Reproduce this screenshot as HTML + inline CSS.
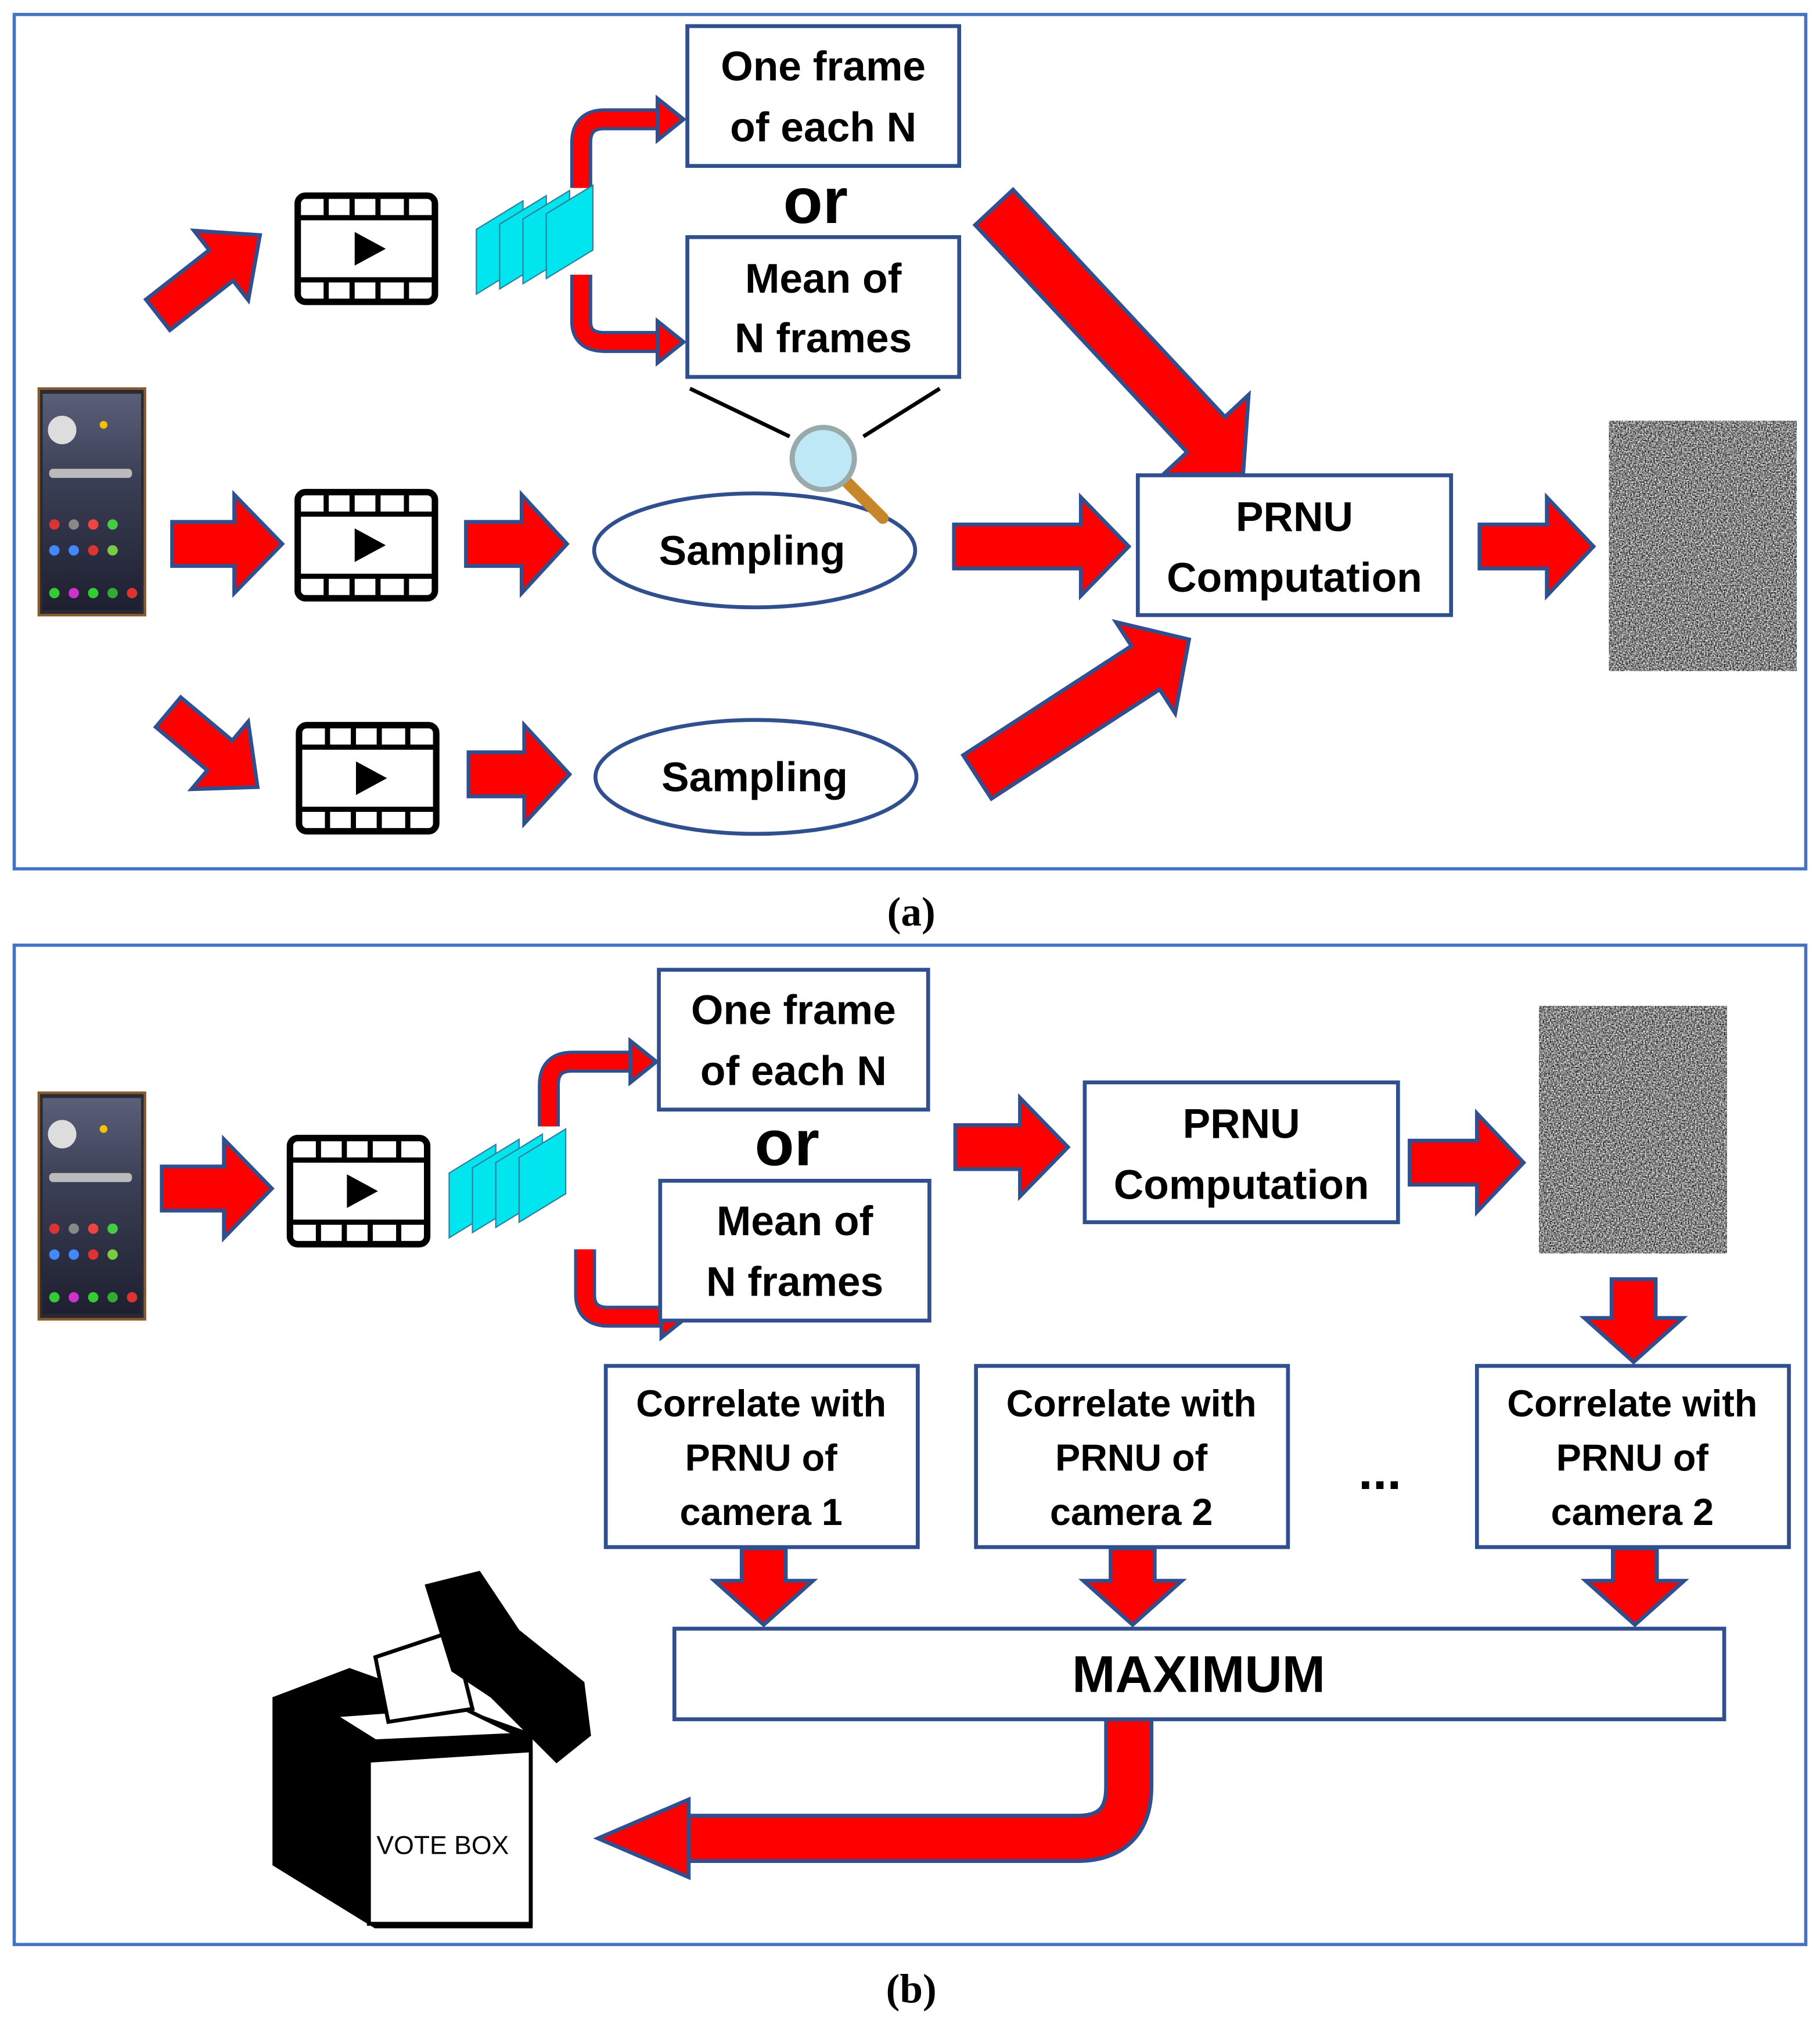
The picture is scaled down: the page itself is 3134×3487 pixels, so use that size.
<!DOCTYPE html>
<html><head><meta charset="utf-8"><style>
html,body{margin:0;padding:0;background:#fff;}
svg{display:block;}
text{font-family:"Liberation Sans",sans-serif;font-weight:bold;fill:#000;}
</style></head><body>
<svg width="3134" height="3487" viewBox="0 0 1406 1564" xmlns="http://www.w3.org/2000/svg">
<defs>
<filter id="noise" x="0" y="0" width="100%" height="100%" color-interpolation-filters="sRGB">
<feTurbulence type="fractalNoise" baseFrequency="0.9" numOctaves="2" seed="3"/>
<feColorMatrix type="matrix" values="1.6 0 0 0 -0.28 1.6 0 0 0 -0.28 1.6 0 0 0 -0.28 0 0 0 0 1"/>
</filter>
<linearGradient id="scr" x1="0" y1="0" x2="0" y2="1">
<stop offset="0" stop-color="#5a5f78"/><stop offset="0.4" stop-color="#3b3f55"/><stop offset="1" stop-color="#1e2030"/>
</linearGradient>
<g id="film">
<rect x="0" y="0" width="106" height="82" rx="6" fill="#fff" stroke="#000" stroke-width="5"/>
<line x1="0" y1="17" x2="106" y2="17" stroke="#000" stroke-width="4"/>
<line x1="0" y1="65" x2="106" y2="65" stroke="#000" stroke-width="4"/>
<g stroke="#000" stroke-width="4">
<line x1="22" y1="0" x2="22" y2="17"/><line x1="42" y1="0" x2="42" y2="17"/><line x1="62" y1="0" x2="62" y2="17"/><line x1="84" y1="0" x2="84" y2="17"/>
<line x1="22" y1="65" x2="22" y2="82"/><line x1="42" y1="65" x2="42" y2="82"/><line x1="62" y1="65" x2="62" y2="82"/><line x1="84" y1="65" x2="84" y2="82"/>
</g>
<polygon points="44,28 44,54 68,41" fill="#000"/>
</g>
<g id="frames">
<polygon points="0,30 36,8 36,58 0,80" fill="#00e5ee" stroke="#2f7f9f" stroke-width="1"/>
<polygon points="18,26 54,4 54,54 18,76" fill="#00e5ee" stroke="#2f7f9f" stroke-width="1"/>
<polygon points="36,22 72,0 72,50 36,72" fill="#00e5ee" stroke="#2f7f9f" stroke-width="1"/>
<polygon points="54,18 90,-4 90,46 54,68" fill="#00e5ee" stroke="#2f7f9f" stroke-width="1"/>
</g>
<g id="phone">
<rect x="0" y="0" width="82" height="175" fill="#2a2a33" stroke="#8a5a30" stroke-width="2"/>
<rect x="3" y="4" width="76" height="167" fill="url(#scr)"/>
<circle cx="18" cy="32" r="11" fill="#ddd"/>
<circle cx="50" cy="28" r="3" fill="#f5c000"/>
<rect x="8" y="62" width="64" height="7" rx="3" fill="#bbb"/>
<g fill="#d33"><circle cx="12" cy="105" r="4"/><circle cx="27" cy="105" r="4" fill="#888"/><circle cx="42" cy="105" r="4" fill="#e44"/><circle cx="57" cy="105" r="4" fill="#4c4"/><circle cx="12" cy="125" r="4" fill="#48f"/><circle cx="27" cy="125" r="4" fill="#48f"/><circle cx="42" cy="125" r="4"/><circle cx="57" cy="125" r="4" fill="#7c4"/><circle cx="12" cy="158" r="4" fill="#3c3"/><circle cx="27" cy="158" r="4" fill="#c3c"/><circle cx="42" cy="158" r="4" fill="#3c3"/><circle cx="57" cy="158" r="4" fill="#3a3"/><circle cx="72" cy="158" r="4"/></g>
</g>
</defs>
<rect width="1406" height="1564" fill="#fff"/>

<rect x="11" y="11" width="1384" height="660" fill="none" stroke="#4472c4" stroke-width="2.5"/>
<text x="704" y="715" font-size="32" text-anchor="middle" style="font-family:'Liberation Serif',serif">(a)</text>
<rect x="11" y="730" width="1384" height="772" fill="none" stroke="#4472c4" stroke-width="2.5"/>
<text x="704" y="1547" font-size="32" text-anchor="middle" style="font-family:'Liberation Serif',serif">(b)</text>

<g fill="#ff0000" stroke="#2f4f8f" stroke-width="3" stroke-linejoin="miter">
<path transform="translate(122,243) rotate(-38)" d="M0,-15 L62,-15 L62,-34 L100,0 L62,34 L62,15 L0,15 Z"/>
<path transform="translate(133,420)" d="M0,-17 L48,-17 L48,-38 L85,0 L48,38 L48,17 L0,17 Z"/>
<path transform="translate(360,420)" d="M0,-17 L43,-17 L43,-38 L78,0 L43,38 L43,17 L0,17 Z"/>
<path transform="translate(737,422)" d="M0,-17 L98,-17 L98,-38 L135,0 L98,38 L98,17 L0,17 Z"/>
<path transform="translate(130,550) rotate(40)" d="M0,-15 L52,-15 L52,-34 L90,0 L52,34 L52,15 L0,15 Z"/>
<path transform="translate(362,598)" d="M0,-17 L43,-17 L43,-38 L78,0 L43,38 L43,17 L0,17 Z"/>
<path transform="translate(768,160) rotate(47)" d="M0,-20 L240,-20 L240,-45 L282,0 L240,45 L240,20 L0,20 Z"/>
<path transform="translate(755,600) rotate(-33)" d="M0,-20 L155,-20 L155,-42 L195,0 L155,42 L155,20 L0,20 Z"/>
<path transform="translate(1143,422)" d="M0,-17 L52,-17 L52,-38 L88,0 L52,38 L52,17 L0,17 Z"/>
<path transform="translate(125,918)" d="M0,-17 L48,-17 L48,-38 L85,0 L48,38 L48,17 L0,17 Z"/>
<path transform="translate(738,886)" d="M0,-17 L50,-17 L50,-38 L87,0 L50,38 L50,17 L0,17 Z"/>
<path transform="translate(1089,898)" d="M0,-17 L52,-17 L52,-38 L88,0 L52,38 L52,17 L0,17 Z"/>
<path transform="translate(1262,988) rotate(90)" d="M0,-17 L30,-17 L30,-38 L64,0 L30,38 L30,17 L0,17 Z"/>
<path transform="translate(590,1196) rotate(90)" d="M0,-17 L25,-17 L25,-38 L59,0 L25,38 L25,17 L0,17 Z"/>
<path transform="translate(875,1196) rotate(90)" d="M0,-17 L25,-17 L25,-38 L59,0 L25,38 L25,17 L0,17 Z"/>
<path transform="translate(1263,1196) rotate(90)" d="M0,-17 L25,-17 L25,-38 L59,0 L25,38 L25,17 L0,17 Z"/>
</g>

<g fill="none" stroke-linejoin="round">
<path d="M449,145 L449,110 Q449,92 467,92 L510,92" stroke="#2f4f8f" stroke-width="17"/>
<path d="M449,145 L449,110 Q449,92 467,92 L510,92" stroke="#ff0000" stroke-width="12"/>
<path d="M449,212 L449,248 Q449,264 467,264 L510,264" stroke="#2f4f8f" stroke-width="17"/>
<path d="M449,212 L449,248 Q449,264 467,264 L510,264" stroke="#ff0000" stroke-width="12"/>
<path d="M424,870 L424,838 Q424,820 442,820 L488,820" stroke="#2f4f8f" stroke-width="17"/>
<path d="M424,870 L424,838 Q424,820 442,820 L488,820" stroke="#ff0000" stroke-width="12"/>
<path d="M452,965 L452,1000 Q452,1017 470,1017 L512,1017" stroke="#2f4f8f" stroke-width="17"/>
<path d="M452,965 L452,1000 Q452,1017 470,1017 L512,1017" stroke="#ff0000" stroke-width="12"/>
<path d="M872,1328 L872,1380 Q872,1420 832,1420 L530,1420" stroke="#2f4f8f" stroke-width="38"/>
<path d="M872,1328 L872,1380 Q872,1420 832,1420 L530,1420" stroke="#ff0000" stroke-width="32"/>
</g>
<g fill="#ff0000" stroke="#2f4f8f" stroke-width="3">
<polygon points="508,76 528,92 508,108"/>
<polygon points="508,248 528,264 508,280"/>
<polygon points="487,804 507,820 487,836"/>
<polygon points="511,1001 531,1017 511,1033"/>
<polygon points="532,1390 532,1450 462,1420"/>
</g>

<use href="#film" x="230" y="151"/>
<use href="#film" x="230" y="380"/>
<use href="#film" x="231" y="560"/>
<use href="#film" x="224" y="879"/>
<use href="#frames" x="368" y="147"/>
<use href="#frames" x="347" y="876"/>
<use href="#phone" x="30" y="300"/>
<use href="#phone" x="30" y="844"/>

<g fill="#fff" stroke="#2f4f8f" stroke-width="3">
<rect x="531" y="20" width="210" height="108"/>
<rect x="531" y="183" width="210" height="108"/>
<rect x="879" y="367" width="242" height="108"/>
<ellipse cx="583" cy="425" rx="124" ry="44"/>
<ellipse cx="584" cy="600" rx="124" ry="44"/>
<rect x="509" y="749" width="208" height="108"/>
<rect x="510" y="912" width="208" height="108"/>
<rect x="838" y="836" width="242" height="108"/>
<rect x="468" y="1055" width="241" height="140"/>
<rect x="754" y="1055" width="241" height="140"/>
<rect x="1141" y="1055" width="241" height="140"/>
<rect x="521" y="1258" width="811" height="70"/>
</g>
<g font-size="32" text-anchor="middle">
<text x="636" y="62">One frame</text><text x="636" y="109">of each N</text>
<text x="630" y="172" font-size="50">or</text>
<text x="636" y="226">Mean of</text><text x="636" y="272">N frames</text>
<text x="1000" y="410">PRNU</text><text x="1000" y="457">Computation</text>
<text x="581" y="436">Sampling</text>
<text x="583" y="611">Sampling</text>
<text x="613" y="791">One frame</text><text x="613" y="838">of each N</text>
<text x="608" y="900" font-size="50">or</text>
<text x="614" y="954">Mean of</text><text x="614" y="1001">N frames</text>
<text x="959" y="879">PRNU</text><text x="959" y="926">Computation</text>
<g font-size="29">
<text x="588" y="1094">Correlate with</text><text x="588" y="1136">PRNU of</text><text x="588" y="1178">camera 1</text>
<text x="874" y="1094">Correlate with</text><text x="874" y="1136">PRNU of</text><text x="874" y="1178">camera 2</text>
<text x="1261" y="1094">Correlate with</text><text x="1261" y="1136">PRNU of</text><text x="1261" y="1178">camera 2</text>
</g>
<text x="926" y="1307" font-size="40">MAXIMUM</text>
<text x="1066" y="1150" font-size="40">...</text>
</g>

<line x1="533" y1="300" x2="610" y2="337" stroke="#000" stroke-width="3"/>
<line x1="726" y1="300" x2="667" y2="337" stroke="#000" stroke-width="3"/>
<line x1="654" y1="372" x2="682" y2="400" stroke="#c8862a" stroke-width="9" stroke-linecap="round"/>
<circle cx="636" cy="354" r="24" fill="#bfe8f7" stroke="#9aa" stroke-width="4"/>

<rect x="1243" y="325" width="145" height="193" filter="url(#noise)"/>
<rect x="1189" y="777" width="145" height="191" filter="url(#noise)"/>

<g stroke="#000" stroke-width="3">
<polygon points="212,1312 270,1290 410,1340 410,1488 290,1488 212,1440" fill="#000"/>
<polygon points="285,1360 410,1352 410,1486 285,1486" fill="#fff"/>
<polygon points="258,1325 355,1318 400,1340 290,1345" fill="#fff"/>
<polygon points="290,1280 350,1260 365,1320 300,1330" fill="#fff"/>
<path d="M330,1225 L370,1215 L400,1260 L450,1300 L455,1340 L430,1360 L380,1310 L350,1290 Z" fill="#000"/>
</g>
<text x="342" y="1432" font-size="20" text-anchor="middle" style="font-weight:normal">VOTE BOX</text>
</svg>
</body></html>
